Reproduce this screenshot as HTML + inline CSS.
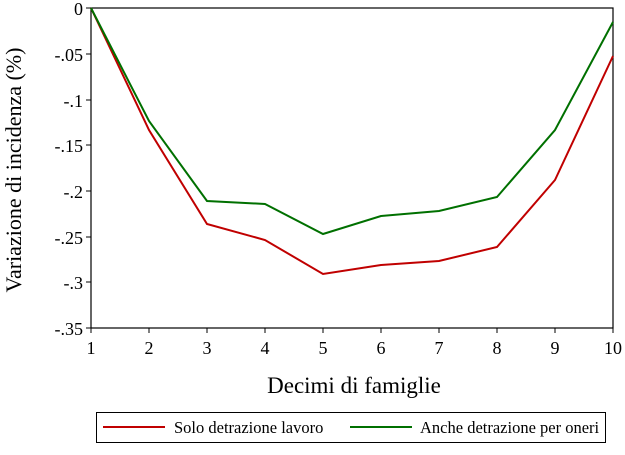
<!DOCTYPE html>
<html><head><style>body{margin:0;background:#fff}</style></head><body>
<svg width="625" height="450" xmlns="http://www.w3.org/2000/svg" font-family="Liberation Serif, serif">
<rect width="625" height="450" fill="#fff"/>
<rect x="91" y="8" width="522" height="320" fill="none" stroke="#000" stroke-width="1.2"/>
<g stroke="#000" stroke-width="1">
<line x1="86" y1="8" x2="91" y2="8"/><line x1="86" y1="54" x2="91" y2="54"/><line x1="86" y1="100" x2="91" y2="100"/><line x1="86" y1="145" x2="91" y2="145"/><line x1="86" y1="191" x2="91" y2="191"/><line x1="86" y1="237" x2="91" y2="237"/><line x1="86" y1="282" x2="91" y2="282"/><line x1="86" y1="328" x2="91" y2="328"/>
<line x1="91" y1="328" x2="91" y2="333"/><line x1="149" y1="328" x2="149" y2="333"/><line x1="207" y1="328" x2="207" y2="333"/><line x1="265" y1="328" x2="265" y2="333"/><line x1="323" y1="328" x2="323" y2="333"/><line x1="381" y1="328" x2="381" y2="333"/><line x1="439" y1="328" x2="439" y2="333"/><line x1="497" y1="328" x2="497" y2="333"/><line x1="555" y1="328" x2="555" y2="333"/><line x1="613" y1="328" x2="613" y2="333"/>
</g>
<g font-size="18" text-anchor="end">
<text x="83" y="15">0</text><text x="83" y="61">-.05</text><text x="83" y="107">-.1</text><text x="83" y="152">-.15</text><text x="83" y="198">-.2</text><text x="83" y="244">-.25</text><text x="83" y="289">-.3</text><text x="83" y="335">-.35</text>
</g>
<g font-size="18" text-anchor="middle">
<text x="91" y="354">1</text><text x="149" y="354">2</text><text x="207" y="354">3</text><text x="265" y="354">4</text><text x="323" y="354">5</text><text x="381" y="354">6</text><text x="439" y="354">7</text><text x="497" y="354">8</text><text x="555" y="354">9</text><text x="613" y="354">10</text>
</g>
<text x="354" y="393" font-size="23" text-anchor="middle">Decimi di famiglie</text>
<text transform="translate(21,170) rotate(-90)" font-size="22" text-anchor="middle">Variazione di incidenza (%)</text>
<polyline fill="none" stroke="#c00000" stroke-width="2" points="91,8 149,130 207,224 265,240 323,274 381,265 439,261 497,247 555,180 613,56"/>
<polyline fill="none" stroke="#007000" stroke-width="2" points="91,8 149,121 207,201 265,204 323,234 381,216 439,211 497,197 555,130 613,22"/>
<rect x="96.5" y="412.5" width="509" height="30" fill="none" stroke="#000"/>
<line x1="103" y1="427" x2="165" y2="427" stroke="#c00000" stroke-width="2"/>
<text x="174" y="433" font-size="16.5">Solo detrazione lavoro</text>
<line x1="350" y1="427" x2="412" y2="427" stroke="#007000" stroke-width="2"/>
<text x="420" y="433" font-size="16.5">Anche detrazione per oneri</text>
</svg>
</body></html>
